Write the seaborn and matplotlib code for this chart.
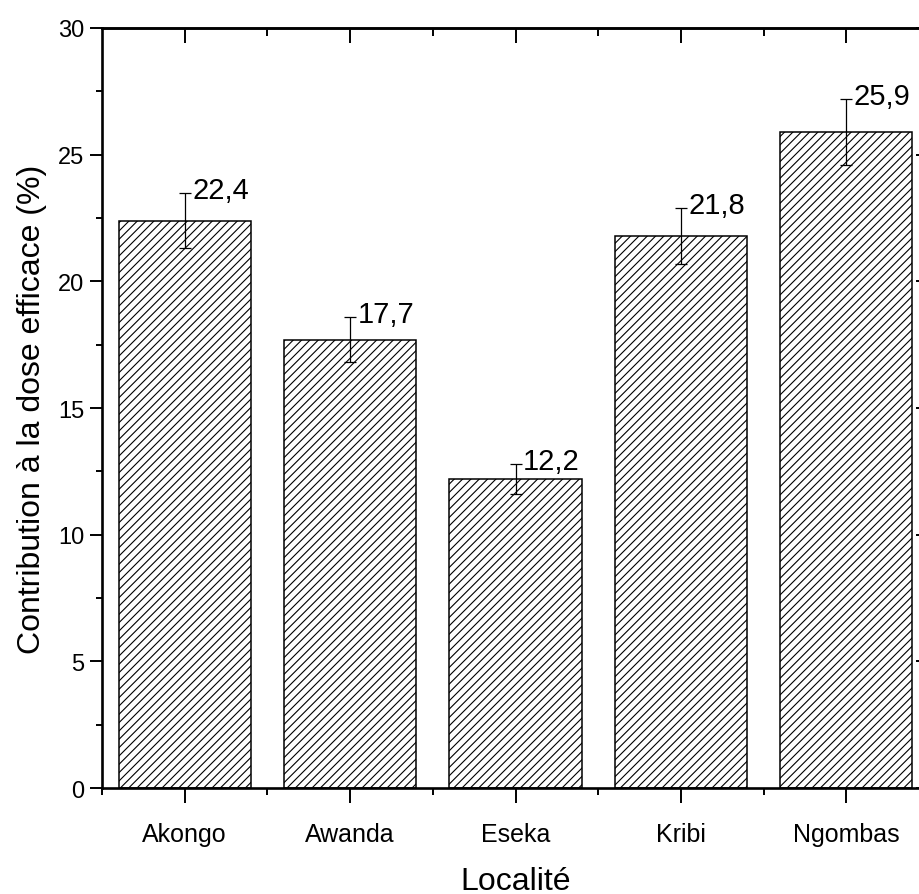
import matplotlib
matplotlib.use("Agg")
import matplotlib.pyplot as plt
import seaborn as sns
import numpy as np
from matplotlib.ticker import MultipleLocator, FixedLocator

categories = ["Akongo", "Awanda", "Eseka", "Kribi", "Ngombas"]
values = [22.4, 17.7, 12.2, 21.8, 25.9]
err_low = [1.1, 0.9, 0.6, 1.1, 1.3]
err_high = [1.1, 0.9, 0.6, 1.1, 1.3]
labels = ["22,4", "17,7", "12,2", "21,8", "25,9"]

sns.set_theme(style="white")
plt.rcParams["font.family"] = ["Liberation Sans", "DejaVu Sans"]
plt.rcParams["hatch.linewidth"] = 0.8
plt.rcParams["hatch.color"] = "black"
plt.rcParams["text.color"] = "black"
plt.rcParams["axes.labelcolor"] = "black"
plt.rcParams["xtick.color"] = "black"
plt.rcParams["ytick.color"] = "black"

fig = plt.figure(figsize=(9.2, 8.95), dpi=100)
ax = fig.add_axes([0.1109, 0.1184, 0.8989, 0.8492])

sns.barplot(x=categories, y=values, color="white", edgecolor="black",
            linewidth=1.1, hatch="////", width=0.8, ax=ax, saturation=1)
for p in ax.patches:
    p.set_facecolor("white")

x = np.arange(len(categories))
ax.errorbar(x, values, yerr=[err_low, err_high], fmt="none", ecolor="black",
            elinewidth=0.9, capsize=4.3, capthick=0.9)

for xi, v, eh, lab in zip(x, values, err_high, labels):
    ax.annotate(lab, xy=(xi, v + eh), xytext=(5.5, 2), textcoords="offset points",
                ha="left", va="center", fontsize=21, color="black")

ax.set_xlim(-0.5, 4.5)
ax.set_ylim(0, 30)
ax.yaxis.set_major_locator(MultipleLocator(5))
ax.yaxis.set_minor_locator(MultipleLocator(2.5))
ax.xaxis.set_minor_locator(FixedLocator([-0.5, 0.5, 1.5, 2.5, 3.5, 4.5]))

for s in ax.spines.values():
    s.set_visible(True)
    s.set_linewidth(1.9)
    s.set_color("black")

ax.tick_params(axis="y", which="major", direction="out", length=8.6, width=1.4,
               labelsize=17, pad=4, left=True, colors="black")
ax.tick_params(axis="y", which="minor", direction="out", length=4.3, width=1.4, left=True)
ax.tick_params(axis="x", which="major", direction="out", length=10.5, width=1.4,
               labelsize=18, pad=14, bottom=True, colors="black")
ax.tick_params(axis="x", which="minor", direction="out", length=5, width=1.4, bottom=True)

top = ax.secondary_xaxis("top")
top.set_xticks(x)
top.xaxis.set_minor_locator(FixedLocator([0.5, 1.5, 2.5, 3.5]))
top.tick_params(axis="x", which="major", direction="in", length=10.8, width=1.4, labeltop=False)
top.tick_params(axis="x", which="minor", direction="in", length=5.5, width=1.4)
top.spines["top"].set_linewidth(1.9)

right = ax.secondary_yaxis("right")
right.yaxis.set_major_locator(MultipleLocator(5))
right.yaxis.set_minor_locator(MultipleLocator(2.5))
right.tick_params(axis="y", which="major", direction="in", length=9.4, width=1.4, labelright=False)
right.tick_params(axis="y", which="minor", direction="in", length=4.3, width=1.4)

ax.set_ylabel("Contribution à la dose efficace (%)", fontsize=23, labelpad=8, color="black")
ax.set_xlabel("Localité", fontsize=23, labelpad=14, color="black")

fig.savefig("out.png", dpi=100)
